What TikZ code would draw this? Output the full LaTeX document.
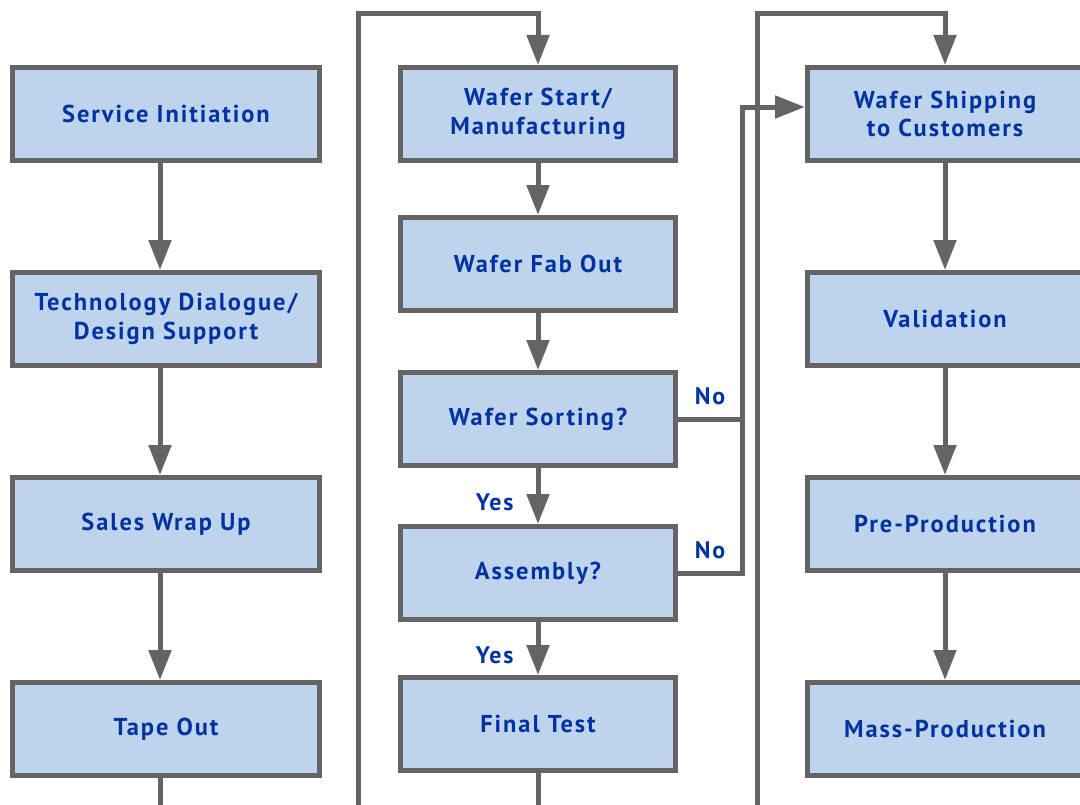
\documentclass[tikz,border=0pt]{standalone}
\usepackage{fontspec}
\setsansfont{PT Sans}[LetterSpace=8]
\usetikzlibrary{arrows.meta, positioning}

\definecolor{boxblue}{RGB}{190,211,236}
\definecolor{boxgray}{RGB}{100,100,100}
\definecolor{textblue}{RGB}{0,51,160}

\begin{document}
\begin{tikzpicture}[
    x=1bp, y=-1bp,
    node distance=107bp,
    stage/.style={rectangle, draw=boxgray, line width=5bp, fill=boxblue, text=textblue, minimum width=307bp, minimum height=93bp, align=center, font=\sffamily\bfseries\fontsize{24.5}{28.5}\selectfont},
    narrow/.style={stage, minimum width=275bp},
    arrow/.style={-{Triangle[length=30bp, width=22bp]}, line width=5bp, draw=boxgray},
    link/.style={line width=5bp, draw=boxgray},
    answer/.style={text=textblue, font=\sffamily\bfseries\fontsize{24}{26}\selectfont, inner sep=6bp}
]
\useasboundingbox (0,0) rectangle (1080,805);
\clip (0,0) rectangle (1080,805);

% Left Column
\node[stage] (Service) at (166,114) {Service Initiation};
\node[stage, below=of Service] (Dialogue) {Technology Dialogue/\\Design Support};
\node[stage, below=of Dialogue] (WrapUp) {Sales Wrap Up};
\node[stage, below=of WrapUp] (TapeOut) {Tape Out};

% Middle Column
\node[narrow] (WaferStart) at (538,114) {Wafer Start/\\Manufacturing};
\node[narrow, below=52bp of WaferStart] (FabOut) {Wafer Fab Out};
\node[narrow, below=57bp of FabOut] (Sorting) {Wafer Sorting?};
\node[narrow, below=56bp of Sorting] (Assembly) {Assembly?};
\node[narrow, below=53bp of Assembly] (FinalTest) {Final Test};

% Right Column
\node[narrow] (Shipping) at (945,114) {Wafer Shipping\\to Customers};
\node[narrow, below=of Shipping] (Validation) {Validation};
\node[narrow, below=of Validation] (PreProd) {Pre-Production};
\node[narrow, below=of PreProd] (MassProd) {Mass-Production};

% Loop points (outside the visible part)
\coordinate (LowA) at (358,840);
\coordinate (TopA) at (358,14);
\coordinate (LowB) at (757,840);
\coordinate (TopB) at (757,14);
\coordinate (NoBus) at (742,0);

% Edges
\draw[arrow] ([xshift=-6bp]Service.south) -- ([xshift=-6bp]Dialogue.north);
\draw[arrow] ([xshift=-6bp]Dialogue.south) -- ([xshift=-6bp]WrapUp.north);
\draw[arrow] ([xshift=-6bp]WrapUp.south) -- ([xshift=-6bp]TapeOut.north);
\draw[arrow] ([xshift=-6bp]TapeOut.south) |- (LowA) -- (TopA) -| (WaferStart.north);

\draw[arrow] (WaferStart) -- (FabOut);
\draw[arrow] (FabOut) -- (Sorting);
\draw[arrow] (Sorting) -- node[answer, left, pos=.62, xshift=-16bp] {Yes} (Assembly);
\draw[arrow] (Assembly) -- node[answer, left, pos=.62, xshift=-16bp] {Yes} (FinalTest);
\draw[arrow] (FinalTest.south) |- (LowB) -- (TopB) -| (Shipping.north);

% No branches
\draw[link] (Sorting.east) -- node[answer, above, yshift=6bp] {No} (Sorting.east -| NoBus);
\draw[arrow] (Assembly.east) -- node[answer, above, yshift=6bp] {No} (Assembly.east -| NoBus) |- ([yshift=7bp]Shipping.west);

\draw[arrow] (Shipping) -- (Validation);
\draw[arrow] (Validation) -- (PreProd);
\draw[arrow] (PreProd) -- (MassProd);

\end{tikzpicture}
\end{document}
